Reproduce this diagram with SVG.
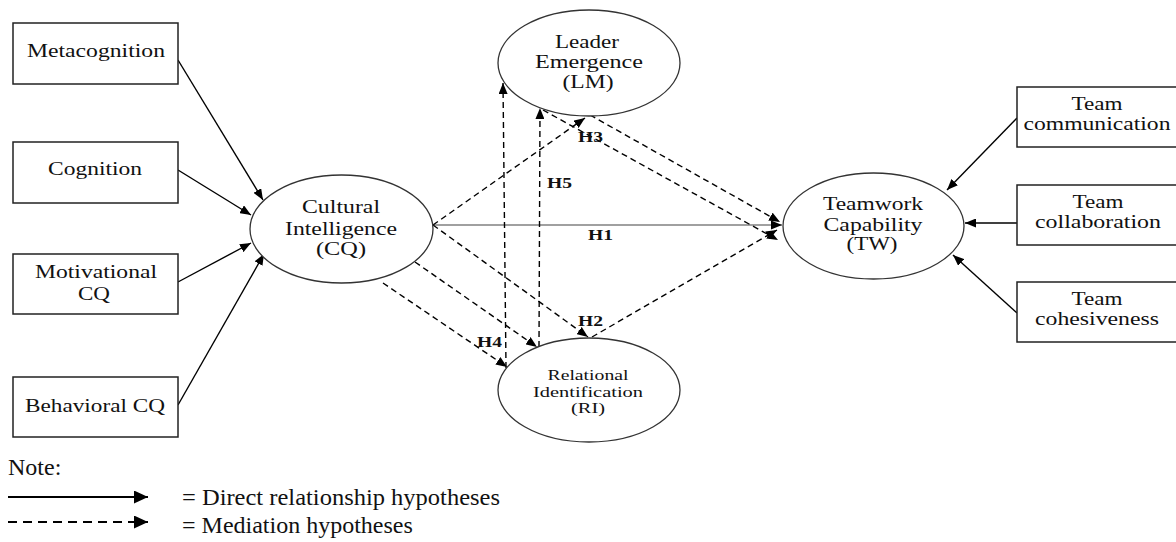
<svg xmlns="http://www.w3.org/2000/svg" width="1176" height="542" viewBox="0 0 1176 542">
<defs>
<marker id="ah" markerUnits="userSpaceOnUse" markerWidth="11" markerHeight="9" refX="11" refY="4.5" orient="auto"><path d="M0,0 L11,4.5 L0,9 z" fill="#000"/></marker>
<marker id="ahL" markerUnits="userSpaceOnUse" markerWidth="14" markerHeight="13" refX="14" refY="6.5" orient="auto"><path d="M0,0 L14,6.5 L0,13 z" fill="#000"/></marker>
<style>
.box{fill:#fff;stroke:#222;stroke-width:1.5}
.ell{fill:#fff;stroke:#333;stroke-width:1.3}
.t{font-family:"Liberation Serif","Times New Roman",serif;font-size:18px;fill:#111;text-anchor:middle}
.ts{font-family:"Liberation Serif","Times New Roman",serif;font-size:15px;fill:#111;text-anchor:middle}
.h{font-family:"Liberation Serif","Times New Roman",serif;font-size:15px;font-weight:bold;fill:#111}
.leg{font-family:"Liberation Serif","Times New Roman",serif;font-size:24px;fill:#111}
.s{stroke:#000;stroke-width:1.4;fill:none;marker-end:url(#ah)}
.d{stroke:#000;stroke-width:1.4;fill:none;stroke-dasharray:6,4;marker-end:url(#ah)}
.g{stroke:#808080;stroke-width:1.6;fill:none;marker-end:url(#ah)}
</style>
</defs>
<rect width="1176" height="542" fill="#fff"/>

<g id="connectors">
<path class="s" d="M178,60 L263,200"/>
<path class="s" d="M178,170 L251,215"/>
<path class="s" d="M178,282 L251,243"/>
<path class="s" d="M178,405 L264,254"/>
<path class="s" d="M1017,118 L947,190"/>
<path class="s" d="M1017,223 L965,223"/>
<path class="s" d="M1017,313 L953,255"/>
<path class="g" d="M433,225 L782,225"/>
<path class="d" d="M433,225 L585,118"/>
<path class="d" d="M590,115 L780,222"/>
<path class="d" d="M543,110 L778,240"/>
<path class="d" d="M506,368 L503,83"/>
<path class="d" d="M539,347 L540,108"/>
<path class="d" d="M433,225 L588,337"/>
<path class="d" d="M415,262 L537,347"/>
<path class="d" d="M383,283 L507,367"/>
<path class="d" d="M592,337 L777,230"/>
</g>

<g id="metacognition"><rect class="box" x="13" y="23" width="165" height="61"/><text class="t" x="96" y="57" textLength="138" lengthAdjust="spacingAndGlyphs">Metacognition</text></g>
<g id="cognition"><rect class="box" x="13" y="142" width="165" height="61"/><text class="t" x="95" y="175" textLength="94" lengthAdjust="spacingAndGlyphs">Cognition</text></g>
<g id="motivational"><rect class="box" x="13" y="254" width="165" height="60"/><text class="t" x="96" y="278" textLength="122" lengthAdjust="spacingAndGlyphs">Motivational</text><text class="t" x="94" y="300" textLength="32" lengthAdjust="spacingAndGlyphs">CQ</text></g>
<g id="behavioral"><rect class="box" x="13" y="377" width="165" height="60"/><text class="t" x="95" y="412" textLength="140" lengthAdjust="spacingAndGlyphs">Behavioral CQ</text></g>

<g id="cq"><ellipse class="ell" cx="341.5" cy="229" rx="91.5" ry="54"/><text class="t" x="341" y="213" textLength="78" lengthAdjust="spacingAndGlyphs">Cultural</text><text class="t" x="341" y="235" textLength="112" lengthAdjust="spacingAndGlyphs">Intelligence</text><text class="t" x="341" y="255" textLength="50" lengthAdjust="spacingAndGlyphs">(CQ)</text></g>

<g id="lm"><ellipse class="ell" cx="589" cy="63" rx="91" ry="53"/><text class="t" x="587" y="48" textLength="64" lengthAdjust="spacingAndGlyphs">Leader</text><text class="t" x="589" y="68" textLength="108" lengthAdjust="spacingAndGlyphs">Emergence</text><text class="t" x="588" y="88" textLength="51" lengthAdjust="spacingAndGlyphs">(LM)</text></g>

<g id="ri"><ellipse class="ell" cx="589" cy="390" rx="91" ry="52"/><text class="ts" x="588" y="380" textLength="81" lengthAdjust="spacingAndGlyphs">Relational</text><text class="ts" x="588" y="397" textLength="110" lengthAdjust="spacingAndGlyphs">Identification</text><text class="ts" x="588" y="413" textLength="34" lengthAdjust="spacingAndGlyphs">(RI)</text></g>

<g id="tw"><ellipse class="ell" cx="873.5" cy="226" rx="90.5" ry="53"/><text class="t" x="873" y="210" textLength="100" lengthAdjust="spacingAndGlyphs">Teamwork</text><text class="t" x="873" y="231" textLength="99" lengthAdjust="spacingAndGlyphs">Capability</text><text class="t" x="872" y="250" textLength="51" lengthAdjust="spacingAndGlyphs">(TW)</text></g>

<g id="team-communication"><rect class="box" x="1017" y="87" width="162" height="60"/><text class="t" x="1097" y="110" textLength="51" lengthAdjust="spacingAndGlyphs">Team</text><text class="t" x="1097" y="130" textLength="147" lengthAdjust="spacingAndGlyphs">communication</text></g>
<g id="team-collaboration"><rect class="box" x="1017" y="185" width="162" height="60"/><text class="t" x="1098" y="208" textLength="51" lengthAdjust="spacingAndGlyphs">Team</text><text class="t" x="1098" y="228" textLength="126" lengthAdjust="spacingAndGlyphs">collaboration</text></g>
<g id="team-cohesiveness"><rect class="box" x="1017" y="282" width="162" height="60"/><text class="t" x="1097" y="305" textLength="51" lengthAdjust="spacingAndGlyphs">Team</text><text class="t" x="1097" y="325" textLength="124" lengthAdjust="spacingAndGlyphs">cohesiveness</text></g>

<g id="labels">
<text class="h" x="588" y="240" textLength="25" lengthAdjust="spacingAndGlyphs">H1</text>
<text class="h" x="578" y="326" textLength="25" lengthAdjust="spacingAndGlyphs">H2</text>
<text class="h" x="578" y="142" textLength="25" lengthAdjust="spacingAndGlyphs">H3</text>
<text class="h" x="477" y="347" textLength="25" lengthAdjust="spacingAndGlyphs">H4</text>
<text class="h" x="547" y="188" textLength="25" lengthAdjust="spacingAndGlyphs">H5</text>
</g>

<g id="legend">
<text class="leg" x="8" y="475">Note:</text>
<path d="M8,497 L148,497" stroke="#000" stroke-width="2" fill="none" marker-end="url(#ahL)"/>
<text class="leg" x="182" y="505" textLength="318" lengthAdjust="spacingAndGlyphs">= Direct relationship hypotheses</text>
<path d="M8,522 L148,522" stroke="#000" stroke-width="2" fill="none" stroke-dasharray="9,6" marker-end="url(#ahL)"/>
<text class="leg" x="182" y="533">= Mediation hypotheses</text>
</g>
</svg>
